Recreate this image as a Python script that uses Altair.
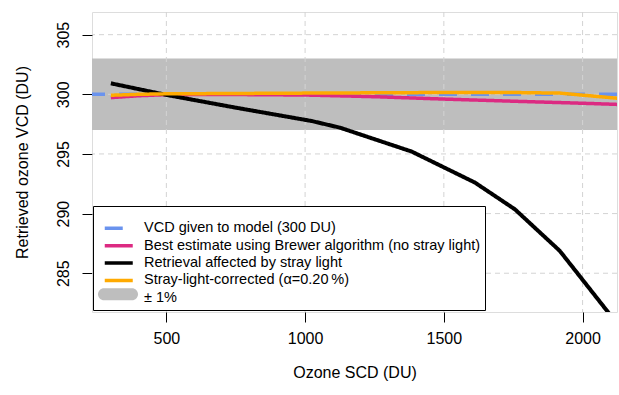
import altair as alt
import pandas as pd

# ---- data ----
series_names = [
    "VCD given to model (300 DU)",
    "Best estimate using Brewer algorithm (no stray light)",
    "Retrieval affected by stray light",
    "Stray-light-corrected (α=0.20\u2009%)",
    "± 1%",
]
# the last entry's line symbol is hidden (white); the grey band symbol comes from the band legend
series_colors = ["#6A93EE", "#DC2A82", "#000000", "#FFAA00", "#FFFFFF"]
band_name = ["± 1%"]
band_color = ["#BEBEBE"]

true_vcd = 300.0
band_low = 297.0
band_high = 303.0

brewer_scd = [300, 400, 500, 750, 1000, 1250, 1500, 1750, 2000, 2130]
brewer_vcd = [299.72, 299.88, 299.97, 299.98, 299.94, 299.8, 299.6, 299.42, 299.25, 299.15]

stray_scd = [300, 500, 750, 1024, 1126, 1384, 1612, 1756, 1918, 2110]
stray_vcd = [300.92, 299.95, 298.88, 297.76, 297.2, 295.2, 292.6, 290.36, 286.87, 281.2]

corr_scd = [300, 400, 500, 1000, 1500, 1750, 1918, 2000, 2130]
corr_vcd = [299.92, 300.0, 300.04, 300.1, 300.15, 300.15, 300.1, 299.93, 299.66]

x_ticks = [500, 1000, 1500, 2000]
y_ticks = [285, 290, 295, 300, 305]

x_domain = [232, 2124]
y_domain = [281.75, 306.9]

# ---- tables ----
rows = []
for name, xs, ys in [
    (series_names[1], brewer_scd, brewer_vcd),
    (series_names[2], stray_scd, stray_vcd),
    (series_names[3], corr_scd, corr_vcd),
]:
    for i, (a, b) in enumerate(zip(xs, ys)):
        rows.append({"series": name, "scd": a, "vcd": b, "order": i})
lines_df = pd.DataFrame(rows)
ref_df = pd.DataFrame({"series": [series_names[0]], "vcd": [true_vcd]})
band_df = pd.DataFrame({"band": band_name, "lo": [band_low], "hi": [band_high]})
xgrid_df = pd.DataFrame({"scd": x_ticks})
ygrid_df = pd.DataFrame({"vcd": y_ticks})

FONT = "Liberation Sans"

xscale = alt.Scale(domain=x_domain, nice=False, zero=False)
yscale = alt.Scale(domain=y_domain, nice=False, zero=False)

line_legend = alt.Legend(
    title=" ",
    titleFontSize=6,
    titlePadding=4.5,
    orient="none",
    legendX=1,
    legendY=194,
    symbolType="M-14,0H14",
    symbolSize=4,
    symbolOffset=14,
    symbolStrokeWidth=3.5,
    labelFont=FONT,
    labelFontSize=14.5,
    labelColor="black",
    labelLimit=600,
    labelOffset=18,
    padding=4.5,
    rowPadding=1.4,
    strokeColor="black",
    fillColor="white",
    symbolOpacity=1,
    zindex=1,
)

band_legend = alt.Legend(
    title=None,
    orient="none",
    legendX=1,
    legendY=275,
    symbolType="M-14,-6H14A6,6 0 0 1 14,6H-14A6,6 0 0 1 -14,-6Z",
    symbolSize=4,
    symbolOffset=17.75,
    symbolStrokeWidth=0,
    symbolOpacity=1,
    labelFont=FONT,
    labelFontSize=14.5,
    labelExpr="''",
    padding=0,
    zindex=2,
)

color_enc = alt.Color(
    "series:N",
    scale=alt.Scale(domain=series_names, range=series_colors),
    legend=line_legend,
)
dash_enc = alt.StrokeDash(
    "series:N",
    scale=alt.Scale(domain=series_names, range=[[18, 14], [1, 0], [1, 0], [1, 0], [1, 0]]),
    legend=line_legend,
)

band = alt.Chart(band_df).mark_rect().encode(
    y=alt.Y("hi:Q", scale=yscale),
    y2="lo:Q",
    fill=alt.Fill("band:N", scale=alt.Scale(domain=band_name, range=band_color), legend=band_legend),
)

xgrid = alt.Chart(xgrid_df).mark_rule(color="#D3D3D3", strokeDash=[5, 4], strokeWidth=1).encode(
    x=alt.X("scd:Q", scale=xscale)
)
ygrid = alt.Chart(ygrid_df).mark_rule(color="#D3D3D3", strokeDash=[5, 4], strokeWidth=1).encode(
    y=alt.Y("vcd:Q", scale=yscale)
)

ref = alt.Chart(ref_df).mark_rule(strokeWidth=3.5).encode(
    y=alt.Y("vcd:Q", scale=yscale),
    color=color_enc,
    strokeDash=dash_enc,
)

line_widths = {series_names[1]: 3.5, series_names[2]: 4, series_names[3]: 3.5}

def line_for(name):
    return alt.Chart(lines_df[lines_df.series == name]).mark_line(
        clip=True, strokeWidth=line_widths[name]
    ).encode(
        x=alt.X(
            "scd:Q",
            scale=xscale,
            axis=alt.Axis(
                values=x_ticks,
                format="d",
                title="Ozone SCD (DU)",
                grid=False,
                domain=False,
                tickSize=10,
                tickColor="black",
                labelFont=FONT,
                labelFontSize=16,
                labelColor="black",
                labelPadding=8,
                labelBaseline="top",
                titleFont=FONT,
                titleFontSize=16,
                titleFontWeight="normal",
                titleColor="black",
                titleBaseline="alphabetic",
                titleY=65,
            ),
        ),
        y=alt.Y(
            "vcd:Q",
            scale=yscale,
            axis=alt.Axis(
                values=y_ticks,
                format="d",
                title="Retrieved ozone VCD (DU)",
                grid=False,
                domain=False,
                tickSize=10,
                tickColor="black",
                labelFont=FONT,
                labelFontSize=16,
                labelColor="black",
                labelAngle=-90,
                labelAlign="center",
                labelBaseline="alphabetic",
                labelPadding=14,
                titleFont=FONT,
                titleFontSize=16,
                titleFontWeight="normal",
                titleColor="black",
                titleAngle=-90,
                titleAlign="center",
                titleBaseline="alphabetic",
                titleX=-65,
                titleY=150,
            ),
        ),
        order="order:Q",
        color=color_enc,
        strokeDash=dash_enc,
    )

chart = alt.layer(
    band,
    xgrid,
    ygrid,
    ref,
    line_for(series_names[1]),
    line_for(series_names[2]),
    line_for(series_names[3]),
).properties(
    width=525,
    height=300,
    autosize=alt.AutoSizeParams(type="none"),
    padding={"left": 92, "top": 12, "right": 2, "bottom": 83},
).configure_view(
    stroke="black", strokeWidth=1
).configure(
    background="white"
)

chart.save("out.html", embed_options={"renderer": "svg", "actions": False})
